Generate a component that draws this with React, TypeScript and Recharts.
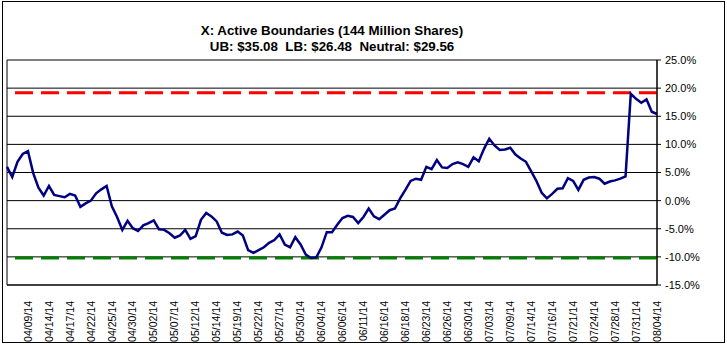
import React from "react";
import {
  LineChart,
  Line,
  XAxis,
  YAxis,
  CartesianGrid,
  ReferenceLine,
} from "recharts";

// percent distance from neutral, 4 readings per label step
const PCT_FROM_NEUTRAL = [
  6.0, 4.2, 6.9, 8.3, 8.8, 4.9, 2.3, 0.9, 2.6, 1.0,
  0.8, 0.6, 1.2, 0.9, -1.1, -0.5, 0.0, 1.3, 2.0, 2.6,
  -1.0, -2.9, -5.2, -3.6, -4.9, -5.4, -4.4, -4.0, -3.5, -5.1,
  -5.2, -5.8, -6.6, -6.2, -5.2, -6.8, -6.3, -3.4, -2.2, -2.8,
  -3.7, -5.7, -6.1, -6.0, -5.5, -6.2, -8.8, -9.3, -8.8, -8.3,
  -7.5, -7.0, -6.0, -7.8, -8.3, -6.5, -7.8, -9.6, -10.2, -10.1,
  -8.3, -5.6, -5.6, -4.3, -3.1, -2.7, -2.9, -4.0, -2.9, -1.4,
  -2.8, -3.3, -2.5, -1.7, -1.4, 0.4, 1.9, 3.5, 3.9, 3.7,
  6.0, 5.6, 7.2, 5.9, 5.8, 6.5, 6.8, 6.5, 6.0, 7.7,
  7.0, 9.2, 11.0, 9.8, 9.0, 9.1, 9.4, 8.2, 7.5, 6.9,
  5.2, 3.5, 1.4, 0.4, 1.2, 2.1, 2.2, 4.0, 3.5, 1.9,
  3.7, 4.1, 4.2, 3.9, 3.0, 3.4, 3.6, 3.9, 4.3, 19.0,
  18.1, 17.4, 18.0, 15.8, 15.4,
];

const DATE_LABELS = [
  "04/09/14", "04/14/14", "04/17/14", "04/22/14", "04/25/14", "04/30/14",
  "05/02/14", "05/07/14", "05/12/14", "05/14/14", "05/19/14", "05/22/14",
  "05/27/14", "05/30/14", "06/04/14", "06/06/14", "06/11/14", "06/16/14",
  "06/18/14", "06/23/14", "06/26/14", "06/30/14", "07/03/14", "07/09/14",
  "07/14/14", "07/16/14", "07/21/14", "07/24/14", "07/28/14", "07/31/14",
  "08/04/14",
];

const Y_TICKS = [-15, -10, -5, 0, 5, 10, 15, 20, 25];
const UPPER_BOUND_PCT = 19.2;
const LOWER_BOUND_PCT = -10.2;
const POINTS_PER_LABEL = 4;

const data = PCT_FROM_NEUTRAL.map((v, i) => ({ i, v }));
const xTicks = DATE_LABELS.map((_, k) => POINTS_PER_LABEL * (k + 1));

const FONT = '"Liberation Sans", Arial, sans-serif';

function DateTick(props: any) {
  const { x, y, payload } = props;
  const k = Math.round(payload.value / POINTS_PER_LABEL) - 1;
  return (
    <g transform={`translate(${x},${y + 8})`}>
      <text
        x={0}
        y={0}
        dy="0.35em"
        transform="rotate(-90)"
        textAnchor="end"
        fontSize={10.5}
        fill="#000"
      >
        {DATE_LABELS[k] ?? ""}
      </text>
    </g>
  );
}

export default function App() {
  return (
    <div
      style={{
        position: "absolute",
        left: 0,
        top: 0,
        width: 727,
        height: 345,
        background: "#fff",
        fontFamily: FONT,
      }}
    >
      <div
        style={{
          position: "absolute",
          left: 2,
          top: 1,
          width: 723,
          height: 342,
          boxSizing: "border-box",
          border: "1px solid #000",
        }}
      />
      <div
        style={{
          position: "absolute",
          left: 7,
          top: 23,
          width: 650,
          textAlign: "center",
          fontWeight: "bold",
          fontSize: 13.33,
          lineHeight: "16px",
          whiteSpace: "pre",
          color: "#000",
        }}
      >
        <div>X: Active Boundaries (144 Million Shares)</div>
        <div>UB: $35.08  LB: $26.48  Neutral: $29.56</div>
      </div>
      <div style={{ position: "absolute", left: 0, top: 0 }}>
        <LineChart
          width={727}
          height={345}
          data={data}
          margin={{ top: 60, right: 0, bottom: 0, left: 7 }}
        >
          <CartesianGrid
            stroke="#000"
            strokeWidth={1}
            verticalCoordinatesGenerator={({ offset }: any) => [
              offset.left,
              offset.left + offset.width,
            ]}
          />
          <XAxis
            dataKey="i"
            type="number"
            domain={[0, PCT_FROM_NEUTRAL.length - 1]}
            ticks={xTicks}
            interval={0}
            height={60}
            tickLine={false}
            axisLine={{ stroke: "#000" }}
            tick={<DateTick />}
          />
          <YAxis
            orientation="right"
            domain={[-15, 25]}
            ticks={Y_TICKS}
            width={70}
            axisLine={{ stroke: "#000" }}
            tickLine={{ stroke: "#000" }}
            tickSize={4}
            tickMargin={4}
            tick={{ fontSize: 11, fill: "#000" }}
            tickFormatter={(v: number) => `${v.toFixed(1)}%`}
          />
          <ReferenceLine
            y={UPPER_BOUND_PCT}
            stroke="#ff0000"
            strokeWidth={3}
            strokeDasharray="18 8"
          />
          <ReferenceLine
            y={LOWER_BOUND_PCT}
            stroke="#008000"
            strokeWidth={3}
            strokeDasharray="18 8"
          />
          <Line
            type="linear"
            dataKey="v"
            stroke="#000080"
            strokeWidth={2.5}
            dot={false}
            isAnimationActive={false}
          />
        </LineChart>
      </div>
    </div>
  );
}
